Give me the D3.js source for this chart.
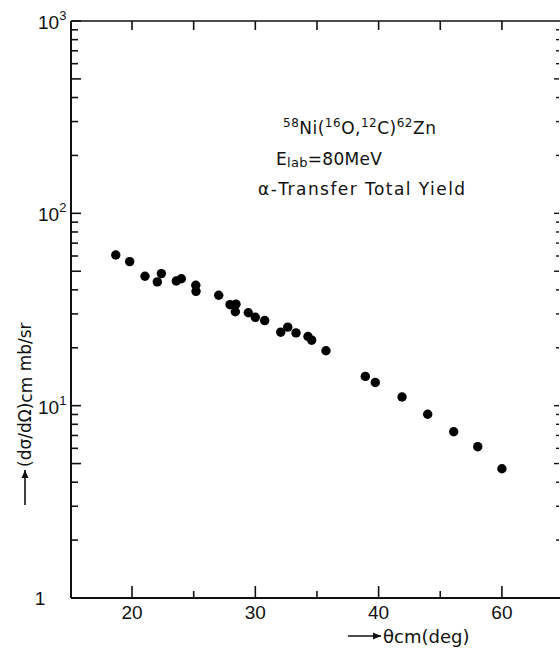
<!DOCTYPE html>
<html>
<head>
<meta charset="utf-8">
<script src="https://cdn.jsdelivr.net/npm/d3@7"></script>
<style>
  html, body { margin: 0; padding: 0; background: #fff; }
  svg { display: block; }
  text { fill: #111; }
</style>
</head>
<body>
<svg id="chart" width="560" height="648"></svg>
<script>
// ---- data ----
const theta = [18.68, 19.81, 21.05, 22.38, 22.05, 23.59, 24.0, 25.17, 25.19, 27.03,
               27.95, 28.43, 28.38, 29.43, 30.0, 30.76, 32.06, 32.63, 33.30, 34.27,
               34.57, 35.73, 38.92, 39.73, 41.90, 43.98, 46.09, 48.04, 50.0];
const yieldVals = [60.7, 56.1, 47.1, 48.6, 44.0, 44.5, 45.7, 42.3, 39.3, 37.5,
                   33.5, 33.7, 30.8, 30.4, 28.8, 27.7, 24.1, 25.6, 23.9, 22.9,
                   21.9, 19.3, 14.2, 13.2, 11.1, 9.02, 7.32, 6.12, 4.70];
const xTickValues = [20, 30, 40, 50];
const xTickLabels = ["20", "30", "40", "60"];
const xMinorTicks = [25, 35, 45];
const yDecades = [1, 10, 100, 1000];
const yDecadeExp = ["", "1", "2", "3"];

// ---- layout ----
const L = 71, R = 559, T = 21, B = 598;
const svg = d3.select("#chart");
const x = d3.scaleLinear().domain([15.05, 54.63]).range([L, R]);
const y = d3.scaleLog().domain([1, 1000]).range([B, T]);

const font = "'Liberation Sans', Arial, sans-serif";
const font2 = "'DejaVu Sans', sans-serif";

// minor log ticks
const yAll = [];
for (let d = 1; d < 1000; d *= 10) for (let k = 1; k <= 9; k++) yAll.push(k * d);
yAll.push(1000);

const g = svg.append("g").attr("stroke", "#111").attr("fill", "none");

// frame lines
g.append("line").attr("x1", L).attr("x2", 560).attr("y1", B).attr("y2", B).attr("stroke-width", 2);
g.append("line").attr("x1", L).attr("x2", L).attr("y1", T).attr("y2", B).attr("stroke-width", 2);
g.append("line").attr("x1", L).attr("x2", 560).attr("y1", T).attr("y2", T).attr("stroke-width", 1.6);

// bottom ticks
g.selectAll(".bt").data(xTickValues.concat(xMinorTicks)).join("line")
  .attr("x1", d => x(d)).attr("x2", d => x(d))
  .attr("y1", B).attr("y2", d => B - (xTickValues.includes(d) ? 12 : 7))
  .attr("stroke-width", 1.6);
// top ticks
g.selectAll(".tt").data(xTickValues.concat(xMinorTicks)).join("line")
  .attr("x1", d => x(d)).attr("x2", d => x(d))
  .attr("y1", T).attr("y2", T + 9)
  .attr("stroke-width", 1.6);

// left ticks
const tickLen = d => {
  const m = d / Math.pow(10, Math.floor(Math.log10(d) + 1e-9));
  return (Math.abs(m - 1) < 1e-6 || Math.abs(m - 5) < 1e-6) ? 10 : 7;
};
g.selectAll(".lt").data(yAll).join("line")
  .attr("x1", L).attr("x2", d => L + tickLen(d))
  .attr("y1", d => y(d)).attr("y2", d => y(d))
  .attr("stroke-width", 1.6);
// right ticks
g.selectAll(".rt").data(yAll.filter(d => d > 1 && d < 1000)).join("line")
  .attr("x1", 559).attr("x2", d => 559 - (tickLen(d) === 10 ? 5 : 3))
  .attr("y1", d => y(d)).attr("y2", d => y(d))
  .attr("stroke-width", 1.4);

// x tick labels
svg.selectAll(".xl").data(xTickValues).join("text")
  .attr("x", d => x(d)).attr("y", B + 21)
  .attr("text-anchor", "middle")
  .style("font-family", font).style("font-size", "19px")
  .text((d, i) => xTickLabels[i]);

// y tick labels
yDecades.forEach((d, i) => {
  const t = svg.append("text")
    .style("font-family", font).style("font-size", "19px");
  if (yDecadeExp[i] === "") {
    t.attr("x", 40).attr("y", y(d) + 7).attr("text-anchor", "middle").text("1");
  } else {
    t.attr("x", 38).attr("y", y(d) + 8).attr("text-anchor", "start");
    t.append("tspan").text("10");
    t.append("tspan").attr("dy", -9).style("font-size", "13px").text(yDecadeExp[i]);
  }
});

// data points
svg.append("g").selectAll("circle").data(theta).join("circle")
  .attr("cx", d => x(d)).attr("cy", (d, i) => y(yieldVals[i]))
  .attr("r", 4.7).attr("fill", "#000");

// annotation
const ann = svg.append("g").style("font-family", font2).style("font-size", "17px");
const a1 = ann.append("text").attr("x", 283).attr("y", 134).attr("letter-spacing", 0.5);
[["58", true], ["Ni(", false], ["16", true], ["O,", false], ["12", true], ["C)", false], ["62", true], ["Zn", false]]
  .forEach(([s, sup]) => {
    a1.append("tspan").attr("dy", sup ? -7 : 7).style("font-size", sup ? "12px" : "17px").text(s);
  });
a1.select("tspan").attr("dy", -7);
const a2 = ann.append("text").attr("x", 276).attr("y", 165).attr("letter-spacing", 0.3);
a2.append("tspan").text("E");
a2.append("tspan").attr("dy", 2).style("font-size", "13px").text("lab");
a2.append("tspan").attr("dy", -2).text("=80MeV");
ann.append("text").attr("x", 258).attr("y", 195).attr("letter-spacing", 1.45)
  .text("α-Transfer Total Yield");

// axis titles
const arrow = (x1, y1, x2, y2) => {
  svg.append("line").attr("x1", x1).attr("y1", y1).attr("x2", x2).attr("y2", y2)
    .attr("stroke", "#111").attr("stroke-width", 1.6);
  const ang = Math.atan2(y2 - y1, x2 - x1);
  const hl = 8, hw = 3.5;
  const bx = x2 - hl * Math.cos(ang), by = y2 - hl * Math.sin(ang);
  const px = -Math.sin(ang) * hw, py = Math.cos(ang) * hw;
  svg.append("path").attr("d", `M${x2},${y2}L${bx + px},${by + py}L${bx - px},${by - py}Z`).attr("fill", "#111");
};
arrow(348, 636, 381, 636);
const xt = svg.append("text").attr("x", 383).attr("y", 643)
  .style("font-family", font2).style("font-size", "18px");
xt.append("tspan").text("θcm(deg)");

arrow(25, 505, 25, 470);
const yt = svg.append("text").attr("transform", "translate(31,467) rotate(-90)")
  .style("font-family", font2).style("font-size", "17px");
yt.append("tspan").text("(dσ/dΩ)");
yt.append("tspan").attr("dy", 1).text("cm");
yt.append("tspan").attr("dy", -1).text(" mb/sr");
</script>
</body>
</html>
